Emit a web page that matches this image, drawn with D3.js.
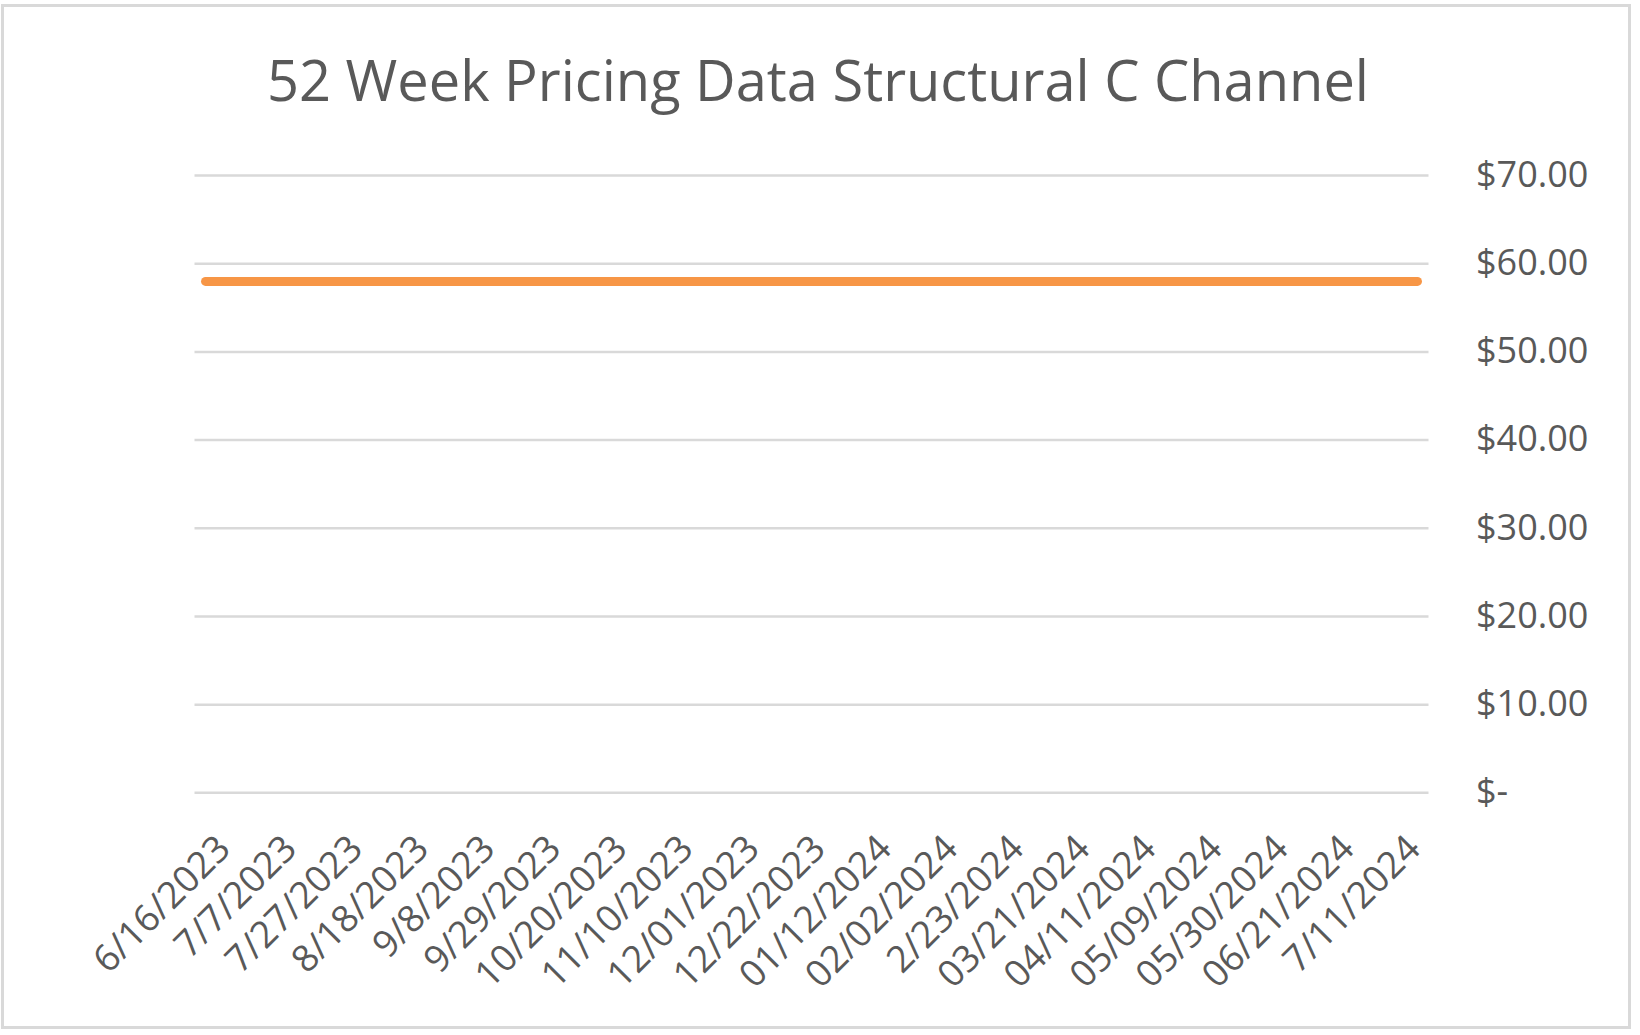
<!DOCTYPE html>
<html>
<head>
<meta charset="utf-8">
<script src="https://cdn.jsdelivr.net/npm/d3@7"></script>
<style>
  html, body { margin: 0; padding: 0; background: #ffffff; }
  svg { display: block; }
</style>
</head>
<body>
<svg id="chart" width="1640" height="1035"></svg>
<script>
// ---------------- DATA ----------------
const chartTitle = "52 Week Pricing Data Structural C Channel";

// weekly categories (one per plotted point)
const weeks = [
  "6/16/2023", "6/23/2023", "6/30/2023",
  "7/7/2023", "7/14/2023", "7/20/2023",
  "7/27/2023", "8/4/2023", "8/11/2023",
  "8/18/2023", "8/25/2023", "9/1/2023",
  "9/8/2023", "9/15/2023", "9/22/2023",
  "9/29/2023", "10/6/2023", "10/13/2023",
  "10/20/2023", "10/27/2023", "11/3/2023",
  "11/10/2023", "11/17/2023", "11/24/2023",
  "12/01/2023", "12/08/2023", "12/15/2023",
  "12/22/2023", "12/29/2023", "01/05/2024",
  "01/12/2024", "01/19/2024", "01/26/2024",
  "02/02/2024", "02/09/2024", "02/16/2024",
  "2/23/2024", "03/01/2024", "03/08/2024",
  "03/21/2024", "03/28/2024", "04/04/2024",
  "04/11/2024", "04/18/2024", "04/25/2024",
  "05/09/2024", "05/16/2024", "05/23/2024",
  "05/30/2024", "06/06/2024", "06/13/2024",
  "06/21/2024", "06/28/2024", "07/04/2024",
  "7/11/2024", "7/18/2024"
];

// price per week (flat)
const prices = [
  58, 58, 58, 58, 58, 58, 58, 58, 58, 58,
  58, 58, 58, 58, 58, 58, 58, 58, 58, 58,
  58, 58, 58, 58, 58, 58, 58, 58, 58, 58,
  58, 58, 58, 58, 58, 58, 58, 58, 58, 58,
  58, 58, 58, 58, 58, 58, 58, 58, 58, 58,
  58, 58, 58, 58, 58, 58
];

// category labels shown on the x axis
const tickLabels = [
  "6/16/2023", "7/7/2023", "7/27/2023", "8/18/2023", "9/8/2023",
  "9/29/2023", "10/20/2023", "11/10/2023", "12/01/2023", "12/22/2023",
  "01/12/2024", "02/02/2024", "2/23/2024", "03/21/2024", "04/11/2024",
  "05/09/2024", "05/30/2024", "06/21/2024", "7/11/2024"
];

// value axis ticks
const yTicks = [0, 10, 20, 30, 40, 50, 60, 70];

// ---------------- LAYOUT ----------------
const W = 1640, H = 1035;
const plot = { left: 194.5, right: 1428.5, top: 175.6, bottom: 792.8 };
const textColor = "#595959";
const gridColor = "#d9d9d9";
const lineColor = "#f79646";
const font = "'Open Sans', 'Noto Sans', sans-serif";

const svg = d3.select("#chart");

svg.append("rect")
  .attr("x", 0).attr("y", 0).attr("width", W).attr("height", H)
  .attr("fill", "#ffffff");

// outer chart border
svg.append("rect")
  .attr("x", 2.5).attr("y", 5.5)
  .attr("width", 1627).attr("height", 1022)
  .attr("fill", "none")
  .attr("stroke", gridColor)
  .attr("stroke-width", 3);

// title
svg.append("text")
  .attr("x", 818).attr("y", 101)
  .attr("text-anchor", "middle")
  .attr("font-family", font)
  .attr("font-size", 56)
  .attr("fill", textColor)
  .text(chartTitle);

// scales
const x = d3.scaleBand()
  .domain(weeks)
  .range([plot.left, plot.right])
  .paddingInner(0).paddingOuter(0);

const y = d3.scaleLinear()
  .domain([0, 70])
  .range([plot.bottom, plot.top]);

const cx = d => x(d) + x.bandwidth() / 2;

// gridlines
svg.append("g")
  .selectAll("line")
  .data(yTicks)
  .join("line")
  .attr("x1", plot.left).attr("x2", plot.right)
  .attr("y1", d => y(d)).attr("y2", d => y(d))
  .attr("stroke", gridColor)
  .attr("stroke-width", 2.5);

// right-hand value axis
const yAxis = d3.axisRight(y)
  .tickValues(yTicks)
  .tickSize(0)
  .tickPadding(0)
  .tickFormat(d => d === 0 ? "$-" : "$" + d3.format(".2f")(d));

const yg = svg.append("g")
  .attr("transform", `translate(1476,0)`)
  .call(yAxis);
yg.select(".domain").remove();
yg.selectAll("text")
  .attr("x", 0)
  .attr("dy", "0.3em")
  .attr("font-family", font)
  .attr("font-size", 36)
  .attr("fill", textColor);

// category axis labels (rotated)
const xAxis = d3.axisBottom(x)
  .tickValues(tickLabels)
  .tickSize(0)
  .tickPadding(0);

const xg = svg.append("g")
  .attr("transform", `translate(0,${plot.bottom})`)
  .call(xAxis);
xg.select(".domain").remove();
xg.selectAll("text")
  .attr("font-family", font)
  .attr("font-size", 37)
  .attr("fill", textColor)
  .attr("text-anchor", "end")
  .attr("dy", 0)
  .attr("y", 0)
  .attr("transform", "translate(27,58) rotate(-45)");

// price line
const line = d3.line()
  .x((d, i) => cx(weeks[i]))
  .y(d => y(d));

svg.append("path")
  .datum(prices)
  .attr("d", line)
  .attr("fill", "none")
  .attr("stroke", lineColor)
  .attr("stroke-width", 9)
  .attr("stroke-linecap", "round")
  .attr("stroke-linejoin", "round");
</script>
</body>
</html>
